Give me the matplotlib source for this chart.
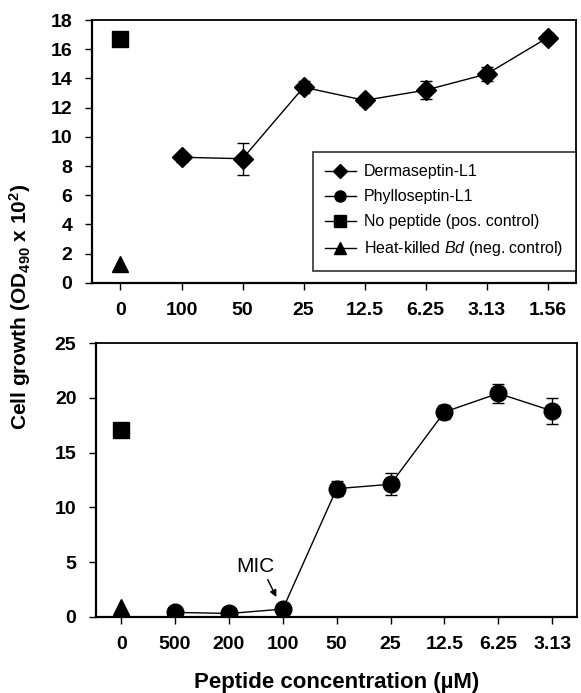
import numpy as np
import matplotlib
matplotlib.use("Agg")
import matplotlib.pyplot as plt
from matplotlib.lines import Line2D

plt.rcParams['font.family'] = ['Liberation Sans', 'DejaVu Sans']
plt.rcParams['mathtext.fontset'] = 'custom'
plt.rcParams['mathtext.rm'] = 'Liberation Sans'
plt.rcParams['mathtext.it'] = 'Liberation Sans:italic'
plt.rcParams['mathtext.bf'] = 'Liberation Sans:bold'

# top panel: Dermaseptin-L1
top_labels = ["0", "100", "50", "25", "12.5", "6.25", "3.13", "1.56"]
derm_y = [8.6, 8.5, 13.4, 12.5, 13.2, 14.3, 16.8]
derm_err = [0.3, 1.1, 0.4, 0.3, 0.6, 0.5, 0.3]
top_pos_ctrl = 16.7
top_neg_ctrl = 1.3

# bottom panel: Phylloseptin-L1
bot_labels = ["0", "500", "200", "100", "50", "25", "12.5", "6.25", "3.13"]
phyl_y = [0.4, 0.3, 0.7, 11.7, 12.1, 18.7, 20.4, 18.8]
phyl_err = [0.1, 0.1, 0.2, 0.7, 1.0, 0.6, 0.9, 1.2]
bot_pos_ctrl = 17.1
bot_neg_ctrl = 0.9

fig = plt.figure(figsize=(5.81, 6.93), dpi=100)
ax1 = fig.add_axes([0.158, 0.592, 0.833, 0.379])
ax2 = fig.add_axes([0.165, 0.110, 0.828, 0.395])

tick_font = dict(fontsize=14, fontweight='bold')

def style(ax, labels, ymax, step):
    n = len(labels)
    yt = np.arange(0, ymax + 0.1, step)
    ax.set_xticks(range(n))
    ax.set_xticklabels(labels, **tick_font)
    ax.set_yticks(yt)
    ax.set_yticklabels([f"{int(v)}" for v in yt], **tick_font)
    ax.set_ylim(0, ymax)
    ax.set_xlim(-0.47, n - 1 + 0.46)
    ax.tick_params(axis='both', direction='out', length=5, width=1, color='black')
    ax.tick_params(axis='x', pad=9)
    ax.tick_params(axis='y', pad=9)
    for s in ax.spines.values():
        s.set_linewidth(1.3)
    ax.spines['left'].set_linewidth(1.6)
    ax.spines['bottom'].set_linewidth(1.6)

# top
x1 = np.arange(1, len(top_labels))
ax1.errorbar(x1, derm_y, yerr=derm_err, color='black', marker='D', markersize=10,
             lw=1, capsize=4, elinewidth=1, zorder=3)
ax1.plot([0], [top_pos_ctrl], marker='s', color='black', markersize=12, ls='none')
ax1.plot([0], [top_neg_ctrl], marker='^', color='black', markersize=12, ls='none')
style(ax1, top_labels, 18, 2)

handles = [
    Line2D([], [], color='black', marker='D', markersize=7, lw=1),
    Line2D([], [], color='black', marker='o', markersize=8, lw=1),
    Line2D([], [], color='black', marker='s', markersize=8, lw=1),
    Line2D([], [], color='black', marker='^', markersize=8, lw=1),
]
names = ["Dermaseptin-L1", "Phylloseptin-L1", "No peptide (pos. control)",
         "Heat-killed $\\it{Bd}$ (neg. control)"]
leg = ax1.legend(handles, names, loc='lower right', bbox_to_anchor=(1.0, 0.045),
                 fontsize=11.5, frameon=True, fancybox=False, edgecolor='black',
                 handlelength=1.9, handletextpad=0.5, borderpad=0.8, labelspacing=0.62,
                 borderaxespad=0.0)
leg.get_frame().set_linewidth(1.2)

# bottom
x2 = np.arange(1, len(bot_labels))
ax2.errorbar(x2, phyl_y, yerr=phyl_err, color='black', marker='o', markersize=12,
             lw=1, capsize=4, elinewidth=1, zorder=3)
ax2.plot([0], [bot_pos_ctrl], marker='s', color='black', markersize=12, ls='none')
ax2.plot([0], [bot_neg_ctrl], marker='^', color='black', markersize=12, ls='none')
style(ax2, bot_labels, 25, 5)

ax2.text(2.5, 4.6, "MIC", fontsize=15, ha='center', va='center')
ax2.annotate("", xy=(2.88, 1.8), xytext=(2.72, 3.4),
             arrowprops=dict(arrowstyle='-|>', color='black', lw=1,
                             mutation_scale=10, shrinkA=0, shrinkB=0))

fig.text(0.58, 0.015, "Peptide concentration (µM)", fontsize=16, fontweight='bold',
         ha='center', va='center')
fig.text(0.035, 0.557, "Cell growth (OD$_{\\mathbf{490}}$ x 10$^{\\mathbf{2}}$)",
         rotation=90, fontsize=15, fontweight='bold', ha='center', va='center')

fig.savefig("out.png", dpi=100)
